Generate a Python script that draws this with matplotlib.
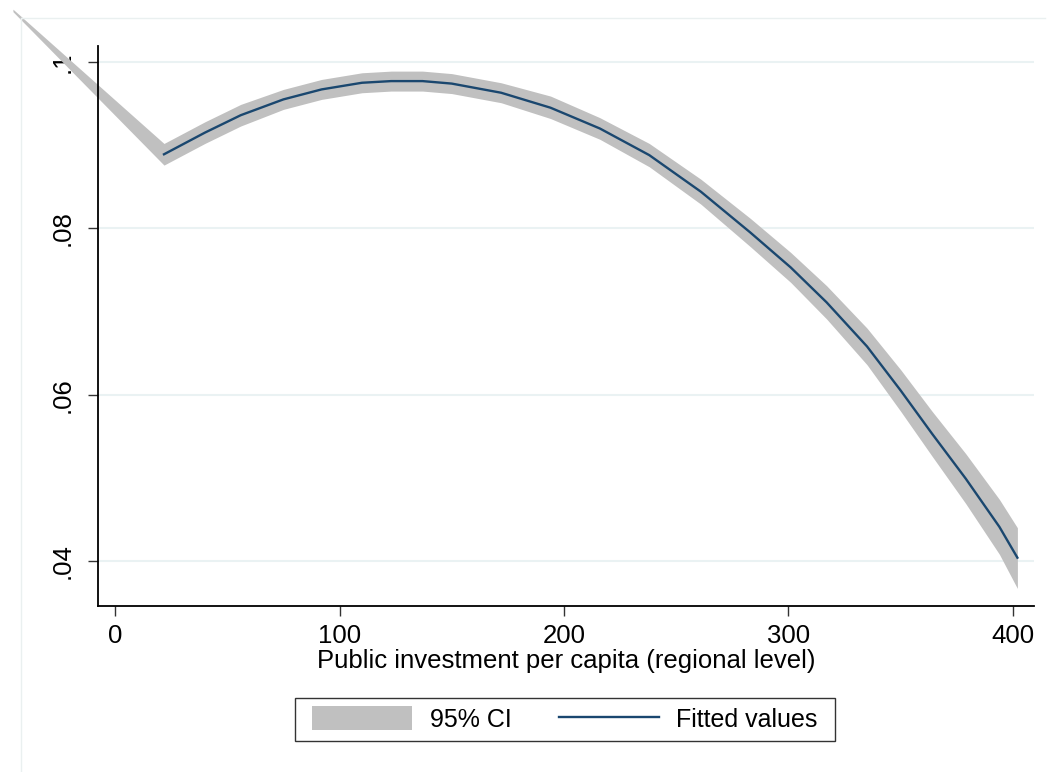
import matplotlib
matplotlib.use("Agg")
import matplotlib.pyplot as plt
from matplotlib.patches import Patch, Rectangle
from matplotlib.lines import Line2D

plt.rcParams['font.family'] = ['Liberation Sans', 'DejaVu Sans']

# fitted values
fit_x = [21.8, 40, 56, 75, 92, 110, 123, 137, 150, 172, 194, 216, 238,
         261, 283, 301, 317, 335, 350, 364, 379, 394, 402]
fit_y = [0.0889, 0.0915, 0.0936, 0.0955, 0.0967, 0.0975, 0.0977, 0.0977,
         0.0974, 0.0963, 0.0945, 0.0920, 0.0888, 0.0844, 0.0795, 0.0753,
         0.0711, 0.0658, 0.0605, 0.0553, 0.0499, 0.0441, 0.0404]

# 95% CI band (starts further left than the fitted line)
ci_x = [-45.5] + fit_x
ci_lo = [0.10605, 0.0876, 0.0902, 0.0923, 0.0943, 0.0955, 0.0963, 0.0965,
         0.0965, 0.0962, 0.0951, 0.0932, 0.0907, 0.0874, 0.0829, 0.0778,
         0.0735, 0.0691, 0.0636, 0.0580, 0.0526, 0.0469, 0.0408, 0.0367]
ci_hi = [0.10635, 0.0902, 0.0928, 0.0949, 0.0967, 0.0979, 0.0987, 0.0989,
         0.0989, 0.0986, 0.0975, 0.0959, 0.0933, 0.0902, 0.0859, 0.0812,
         0.0771, 0.0731, 0.0680, 0.0630, 0.0580, 0.0529, 0.0474, 0.0440]

xticks = [0, 100, 200, 300, 400]
yticks = [0.04, 0.06, 0.08, 0.1]
ylabels = ['.04', '.06', '.08', '.1']

W, H = 1055, 772
fig = plt.figure(figsize=(W / 100, H / 100), dpi=100)
ax = fig.add_axes([98 / W, 1 - 606 / H, (1034 - 98) / W, (606 - 46) / H])

band_col = '#C0C0C0'
line_col = '#1A476F'
fs = 18.5

ax.fill_between(ci_x, ci_lo, ci_hi, color=band_col, lw=0, clip_on=False, zorder=2)
ax.plot(fit_x, fit_y, color=line_col, lw=1.7, zorder=3)

ax.set_xlim(-7.6, 409.4)
ax.set_ylim(0.03459, 0.10192)
ax.set_xticks(xticks)
ax.set_xticklabels([str(t) for t in xticks], fontsize=fs)
ax.set_yticks(yticks)
ax.set_yticklabels(ylabels, fontsize=fs, rotation=90, va='center')
ax.tick_params(direction='out', length=7, width=1, color='#333333', pad=6)
ax.tick_params(axis='y', pad=10)

ax.yaxis.grid(True, color='#EAF2F3', lw=1.5)
ax.set_axisbelow(True)
for s in ['top', 'right']:
    ax.spines[s].set_visible(False)
for s in ['left', 'bottom']:
    ax.spines[s].set_linewidth(1.3)
    ax.spines[s].set_color('black')

ax.set_xlabel('Public investment per capita (regional level)', fontsize=fs, labelpad=1)

# faint outer region outline
fig.add_artist(Line2D([21 / W, 21 / W], [0, 1 - 18 / H], transform=fig.transFigure,
                      color='#EAF0F0', lw=1))
fig.add_artist(Line2D([21 / W, 1045 / W], [1 - 18 / H, 1 - 18 / H], transform=fig.transFigure,
                      color='#EAF0F0', lw=1))

handles = [Patch(facecolor=band_col, edgecolor='none', label='95% CI'),
           Line2D([], [], color=line_col, lw=1.7, label='Fitted values')]
leg = fig.legend(handles=handles, loc='center', bbox_to_anchor=(565 / W, 1 - 719 / H),
                 ncol=2, fontsize=18, frameon=False, handlelength=4, handleheight=1.1,
                 handletextpad=0.7, columnspacing=1.9, borderpad=0.35)

# draw the legend box a bit wider than matplotlib's own frame
fig.canvas.draw()
bb = leg.get_window_extent()
x0, x1 = bb.x0 - 8, bb.x1 + 8
fig.add_artist(Rectangle((x0 / W, bb.y0 / H), (x1 - x0) / W, bb.height / H,
                         transform=fig.transFigure, facecolor='none',
                         edgecolor='#333333', lw=1))

fig.savefig('out.png', dpi=100, facecolor='white')
